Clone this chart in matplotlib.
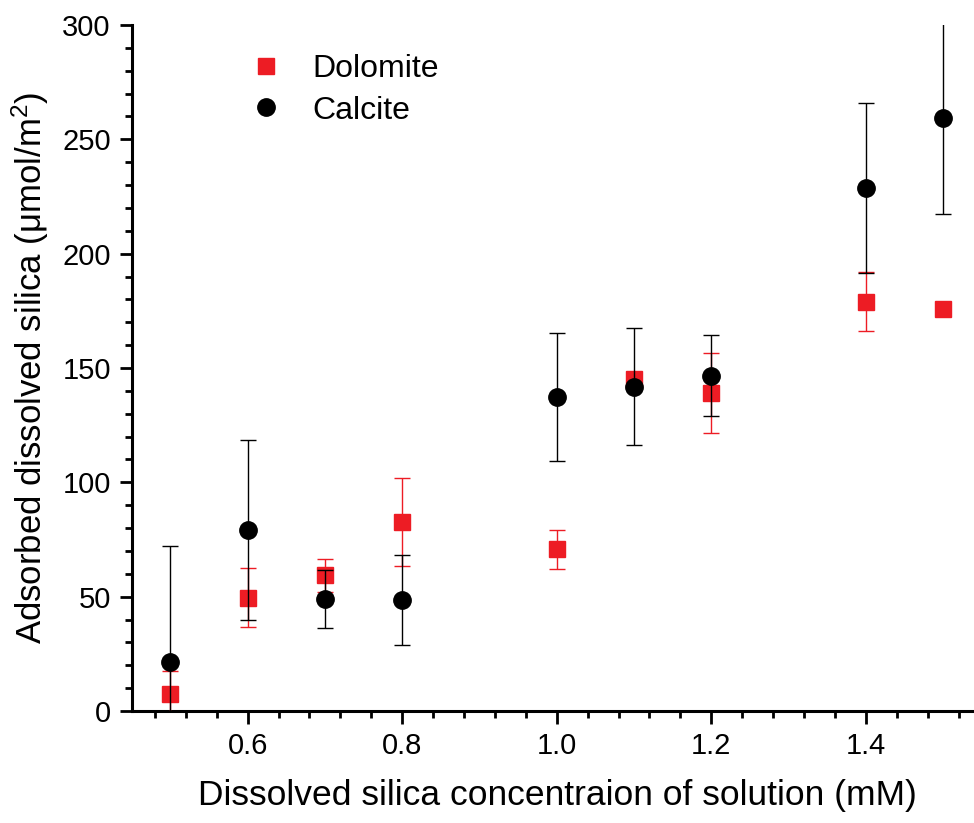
import matplotlib
matplotlib.use("Agg")
import matplotlib.pyplot as plt
from matplotlib.ticker import MultipleLocator, FormatStrFormatter
from matplotlib.lines import Line2D

plt.rcParams['font.family'] = ['Liberation Sans', 'DejaVu Sans']
plt.rcParams['mathtext.fontset'] = 'custom'
plt.rcParams['mathtext.rm'] = 'Liberation Sans'
plt.rcParams['mathtext.it'] = 'Liberation Sans:italic'

# Data
conc = [0.5, 0.6, 0.7, 0.8, 1.0, 1.1, 1.2, 1.4, 1.5]
dolomite = [7.4, 49.6, 59.3, 82.8, 70.7, 145.0, 139.2, 179.0, 176.0]
dolomite_err = [10.0, 13.0, 7.2, 19.2, 8.5, 2.0, 17.5, 12.8, 0.0]
calcite = [21.3, 79.0, 48.9, 48.5, 137.3, 141.8, 146.7, 228.8, 259.4]
calcite_err = [51.0, 39.3, 12.7, 19.6, 28.0, 25.5, 17.8, 37.2, 42.0]
xticks = [0.6, 0.8, 1.0, 1.2, 1.4]

red = '#ED1C24'

fig = plt.figure(figsize=(9.74, 8.23), dpi=100)
ax = fig.add_axes([0.1352, 0.1361, 0.8648, 0.8335])

ax.errorbar(conc, dolomite, yerr=dolomite_err, fmt='s', color=red, ecolor=red,
            markersize=11.5, elinewidth=1.0, capsize=5.5, capthick=1.0, zorder=3)
ax.errorbar(conc, calcite, yerr=calcite_err, fmt='o', color='black', ecolor='black',
            markersize=12.5, elinewidth=1.0, capsize=5.5, capthick=1.0, zorder=4)

ax.set_xlim(0.45, 1.54)
ax.set_ylim(0, 300)

ax.set_xticks(xticks)
ax.xaxis.set_minor_locator(MultipleLocator(0.04))
ax.xaxis.set_major_formatter(FormatStrFormatter('%.1f'))
ax.yaxis.set_major_locator(MultipleLocator(50))
ax.yaxis.set_minor_locator(MultipleLocator(10))

for s in ['top', 'right']:
    ax.spines[s].set_visible(False)
for s in ['left', 'bottom']:
    ax.spines[s].set_linewidth(2.2)

ax.tick_params(which='major', direction='out', length=9, width=2.0, labelsize=21, pad=6)
ax.tick_params(which='minor', direction='out', length=5, width=2.0)

ax.set_xlabel('Dissolved silica concentraion of solution (mM)', fontsize=25.5, labelpad=14)
ax.xaxis.label.set_x(0.5055)
ax.set_ylabel('Adsorbed dissolved silica (μmol/m$^2$)', fontsize=25, labelpad=8)

handles = [
    Line2D([], [], linestyle='none', marker='s', color=red, markersize=11.5, label='Dolomite'),
    Line2D([], [], linestyle='none', marker='o', color='black', markersize=12.5, label='Calcite'),
]
ax.legend(handles=handles, loc='upper left', bbox_to_anchor=(0.1063, 0.999), frameon=False,
          fontsize=23, handletextpad=0.94, labelspacing=0.35, handlelength=1.0)

fig.savefig('out.png', dpi=100)
